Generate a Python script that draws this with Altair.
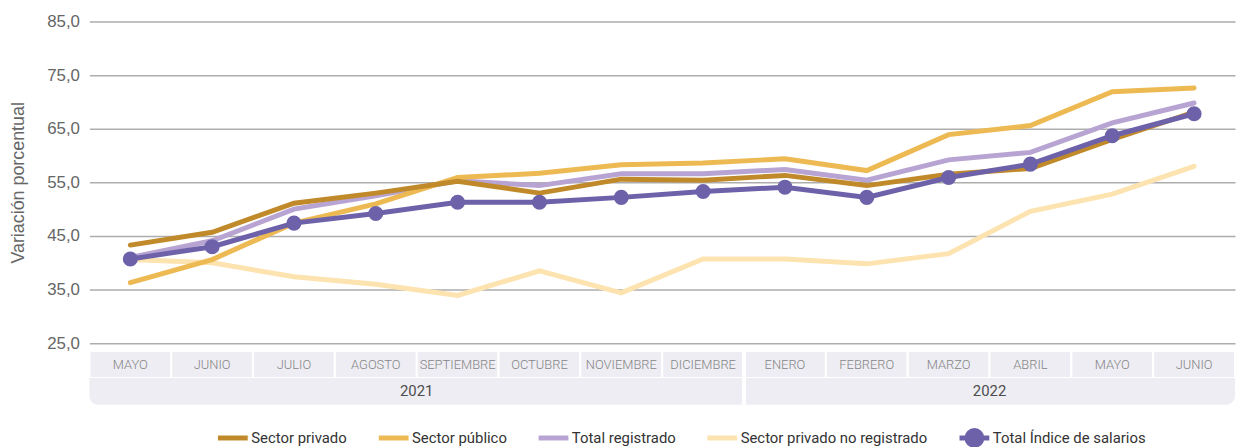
import altair as alt
import pandas as pd

months = ["MAYO", "JUNIO", "JULIO", "AGOSTO", "SEPTIEMBRE", "OCTUBRE", "NOVIEMBRE",
          "DICIEMBRE", "ENERO", "FEBRERO", "MARZO", "ABRIL", "MAYO", "JUNIO"]
year_labels = ["2021", "2022"]
year_first_idx = [0, 8]
year_last_idx = [7, 13]

series_names = ["Sector privado", "Sector público", "Total registrado",
                "Sector privado no registrado", "Total Índice de salarios"]
series_colors = ["#C08A2B", "#EDB953", "#B8A4D2", "#FDE3AF", "#6D62A9"]

sector_privado = [43.3, 45.7, 51.1, 53.0, 55.2, 53.0, 55.6, 55.4, 56.3, 54.4, 56.5, 57.6, 63.0, 68.1]
sector_publico = [36.3, 40.6, 47.4, 51.0, 55.9, 56.7, 58.3, 58.6, 59.4, 57.2, 63.9, 65.6, 71.9, 72.6]
total_registrado = [41.0, 44.1, 50.0, 52.5, 55.3, 54.4, 56.6, 56.6, 57.4, 55.4, 59.2, 60.6, 66.1, 69.8]
privado_no_registrado = [40.6, 40.0, 37.4, 36.0, 33.9, 38.5, 34.4, 40.7, 40.7, 39.8, 41.7, 49.6, 52.8, 58.0]
total_indice = [40.7, 43.0, 47.4, 49.2, 51.3, 51.3, 52.2, 53.3, 54.1, 52.2, 55.9, 58.4, 63.7, 67.8]

# drawing order (bottom to top)
draw_order = [
    ("Sector privado no registrado", privado_no_registrado),
    ("Total registrado", total_registrado),
    ("Sector público", sector_publico),
    ("Sector privado", sector_privado),
    ("Total Índice de salarios", total_indice),
]
rows = []
for z, (name, vals) in enumerate(draw_order):
    for i, v in enumerate(vals):
        rows.append({"idx": i, "serie": name, "valor": v, "z": z})
df = pd.DataFrame(rows)

NARROW = "Roboto, sans-serif"
REG = "Liberation Sans, Arial, sans-serif"

x_scale = alt.Scale(domain=[-0.5, 13.5], nice=False, zero=False)
y_scale = alt.Scale(domain=[25, 85], nice=False, zero=False)

TOTAL = "Total Índice de salarios"
# legend symbol paths (unit box -1..1): line only / line with dot (bezier circle)
LINE_PATH = "M-1,0L1,0M0,-0.5L0,-0.5M0,0.5L0,0.5"
DOT_PATH = ("M-1,0L1,0M0.5,0C0.5,0.276,0.276,0.5,0,0.5C-0.276,0.5,-0.5,0.276,-0.5,0"
            "C-0.5,-0.276,-0.276,-0.5,0,-0.5C0.276,-0.5,0.5,-0.276,0.5,0Z")
legend_cfg = alt.Legend(
    orient="none", legendX=127, legendY=402, direction="horizontal", title=None,
    symbolType={"expr": "datum.value === '" + TOTAL + "' ? '" + DOT_PATH + "' : '" + LINE_PATH + "'"},
    symbolFillColor={"expr": "datum.value === '" + TOTAL + "' ? '#6D62A9' : 'transparent'"},
    symbolStrokeWidth=5, symbolSize=900,
    labelFont=NARROW, labelFontSize=15, labelColor="#333333", labelOffset=1,
    columnPadding=21, labelLimit=0,
)

base = alt.Chart(df)
lines = base.mark_line(strokeWidth=5, strokeCap="round").encode(
    x=alt.X("idx:Q", scale=x_scale, axis=None),
    y=alt.Y("valor:Q", scale=y_scale,
            axis=alt.Axis(values=[25, 35, 45, 55, 65, 75, 85], title="Variación porcentual",
                          labelExpr="replace(format(datum.value, '.1f'), '.', ',')",
                          grid=True, ticks=False, domain=False,
                          labelFont=REG, labelFontSize=17, labelColor="#666666",
                          titleFont=REG, titleFontSize=18, titleColor="#666666",
                          titleFontWeight="normal", labelPadding=10, titlePadding=19,
                          gridColor="#ADADAD", gridWidth=1.5)),
    color=alt.Color("serie:N", scale=alt.Scale(domain=series_names, range=series_colors),
                    legend=legend_cfg),
    detail="z:O",
)
points = base.transform_filter(alt.datum.serie == TOTAL).mark_circle(
    size=230, opacity=1, color="#6D62A9").encode(
    x=alt.X("idx:Q", scale=x_scale, axis=None),
    y=alt.Y("valor:Q", scale=y_scale),
)
top = alt.layer(lines, points).properties(width=1154, height=324)

# category cells
mdf = pd.DataFrame({"idx": list(range(len(months))), "mes": months})
mdf["x0"] = mdf["idx"] - 0.5
mdf["x1"] = mdf["idx"] + 0.5
mdf["fila"] = "mes"
ydf = pd.DataFrame({"anio": year_labels, "first": year_first_idx, "last": year_last_idx})
ydf["x0"] = ydf["first"] - 0.5
ydf["x1"] = ydf["last"] + 0.5
ydf["xc"] = (ydf["x0"] + ydf["x1"]) / 2
ydf["fila"] = "anio"

row_scale = alt.Scale(domain=["mes", "anio"], paddingInner=0, paddingOuter=0)
cell_fill = "#EEEDF3"

month_rect = alt.Chart(mdf).mark_rect(color=cell_fill, stroke="white", strokeWidth=2).encode(
    x=alt.X("x0:Q", scale=x_scale, axis=None), x2="x1:Q",
    y=alt.Y("fila:N", scale=row_scale, axis=None),
)
month_text = alt.Chart(mdf).mark_text(font=NARROW, fontSize=13, fontWeight=300,
                                      color="#858585").encode(
    x=alt.X("idx:Q", scale=x_scale, axis=None),
    y=alt.Y("fila:N", scale=row_scale, axis=None),
    text="mes:N",
)
year_rect_a = alt.Chart(ydf).transform_filter(alt.datum.anio == "2021").mark_rect(
    color=cell_fill, cornerRadiusBottomLeft=9).encode(
    x=alt.X("x0:Q", scale=x_scale, axis=None), x2="x1:Q",
    y=alt.Y("fila:N", scale=row_scale, axis=None),
)
year_rect_b = alt.Chart(ydf).transform_filter(alt.datum.anio == "2022").mark_rect(
    color=cell_fill, cornerRadiusBottomRight=9).encode(
    x=alt.X("x0:Q", scale=x_scale, axis=None), x2="x1:Q",
    y=alt.Y("fila:N", scale=row_scale, axis=None),
)
sep = alt.Chart(ydf).transform_filter(alt.datum.first > 0).mark_rule(
    color="white", strokeWidth=4).encode(
    x=alt.X("x0:Q", scale=x_scale, axis=None),
)
year_text = alt.Chart(ydf).mark_text(font=NARROW, fontSize=15, color="#4D4D4D").encode(
    x=alt.X("xc:Q", scale=x_scale, axis=None),
    y=alt.Y("fila:N", scale=row_scale, axis=None),
    text="anio:N",
)
bottom = alt.layer(month_rect, year_rect_a, year_rect_b, sep, month_text, year_text).properties(
    width=1154, height=54)

chart = alt.vconcat(top, bottom, spacing=8, bounds="flush").properties(
    padding={"left": 1, "top": 3, "right": 0, "bottom": 0}
).configure_view(stroke=None)

chart.save("out.html", embed_options={"renderer": "svg", "actions": False})
